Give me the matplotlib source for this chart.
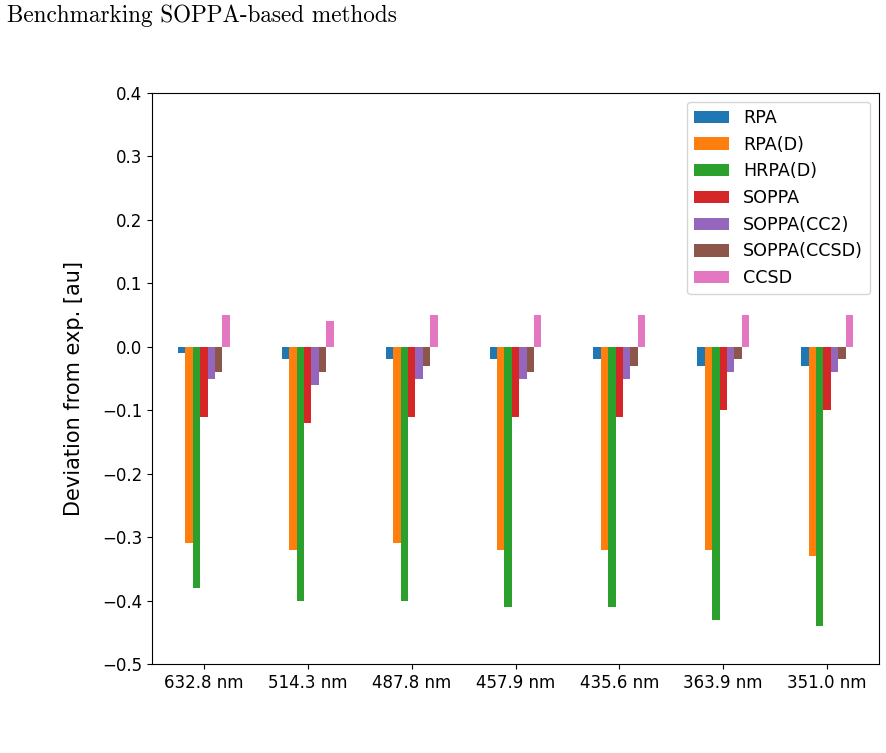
import matplotlib
matplotlib.use("Agg")
import matplotlib.pyplot as plt
import numpy as np

wavelengths = ["632.8 nm", "514.3 nm", "487.8 nm", "457.9 nm", "435.6 nm", "363.9 nm", "351.0 nm"]
methods = ["RPA", "RPA(D)", "HRPA(D)", "SOPPA", "SOPPA(CC2)", "SOPPA(CCSD)", "CCSD"]

rpa        = [-0.01, -0.02, -0.02, -0.02, -0.02, -0.03, -0.03]
rpa_d      = [-0.31, -0.32, -0.31, -0.32, -0.32, -0.32, -0.33]
hrpa_d     = [-0.38, -0.40, -0.40, -0.41, -0.41, -0.43, -0.44]
soppa      = [-0.11, -0.12, -0.11, -0.11, -0.11, -0.10, -0.10]
soppa_cc2  = [-0.05, -0.06, -0.05, -0.05, -0.05, -0.04, -0.04]
soppa_ccsd = [-0.04, -0.04, -0.03, -0.04, -0.03, -0.02, -0.02]
ccsd       = [0.05, 0.04, 0.05, 0.05, 0.05, 0.05, 0.05]

yticks = [-0.5, -0.4, -0.3, -0.2, -0.1, 0.0, 0.1, 0.2, 0.3, 0.4]

series = [rpa, rpa_d, hrpa_d, soppa, soppa_cc2, soppa_ccsd, ccsd]
colors = ["#1f77b4", "#ff7f0e", "#2ca02c", "#d62728", "#9467bd", "#8c564b", "#e377c2"]

fig = plt.figure(figsize=(8.86, 7.53), dpi=100)
ax = fig.add_axes([152/886, 1 - 664/753, (879-152)/886, (664-93)/753])

x = np.arange(len(wavelengths))
n = len(series)
w = 0.5 / n
for j, (vals, name, c) in enumerate(zip(series, methods, colors)):
    ax.bar(x - 0.25 + (j + 0.5) * w, vals, width=w, color=c, label=name)

ax.set_xlim(-0.5, len(wavelengths) - 0.5)
ax.set_ylim(-0.5, 0.4)
ax.set_yticks(yticks)
ax.set_yticklabels([f"{v:.1f}".replace("-", "\u2212") for v in yticks])
ax.set_xticks(x)
ax.set_xticklabels(wavelengths)
ax.tick_params(labelsize=12)
ax.set_ylabel("Deviation from exp. [au]", fontsize=15)
ax.yaxis.set_label_coords(-0.093, (664 - 389) / 571)
ax.legend(loc="upper right", fontsize=12.6)

fig.text(7/886, 1 - 16/753, "Benchmarking SOPPA-based methods", family="cmr10",
         fontsize=16.7, va="center", ha="left")

fig.savefig("out.png", dpi=100)
